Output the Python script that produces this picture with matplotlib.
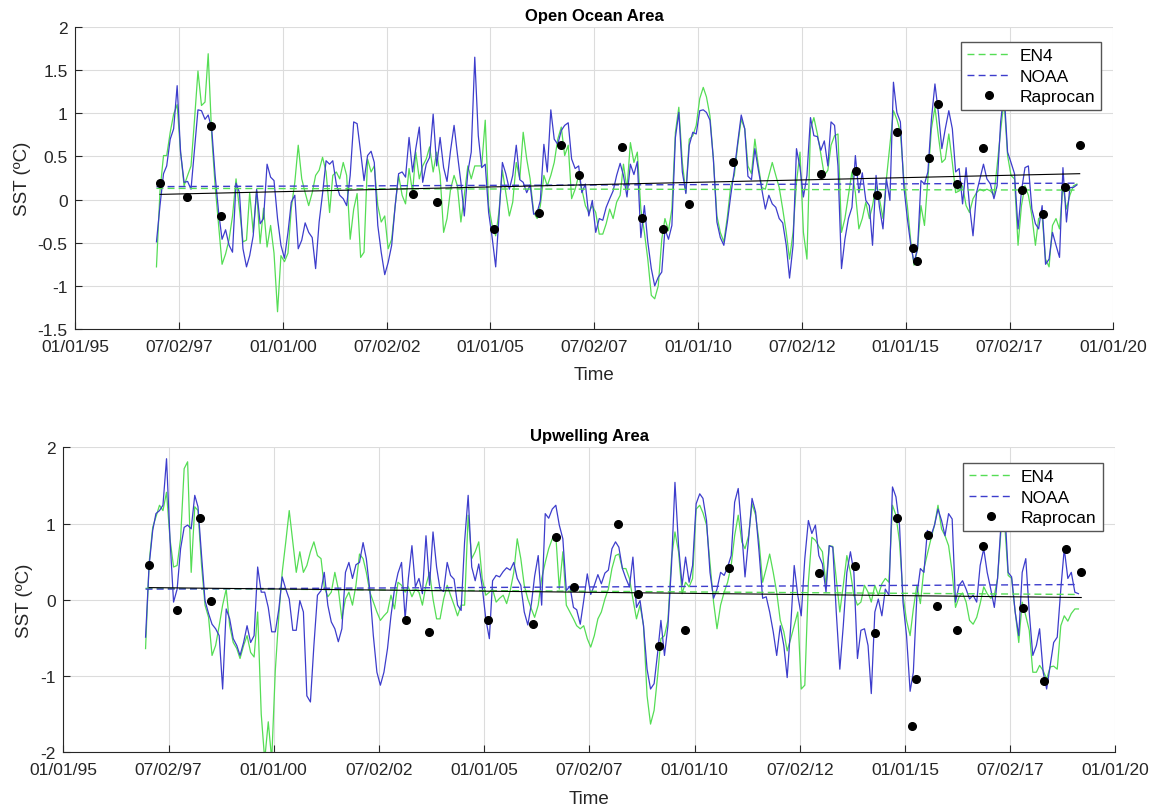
import numpy as np
import pandas as pd
import matplotlib
matplotlib.use("Agg")
import matplotlib.pyplot as plt
import matplotlib.dates as mdates
from matplotlib.ticker import FormatStrFormatter

plt.rcParams['font.family'] = ['Liberation Sans', 'DejaVu Sans']

# ---------------- monthly SST anomalies (Dec 1996 - Feb 2019) ----------------
n_months = 267
months = pd.date_range('1996-12-01', periods=n_months, freq='MS') + pd.Timedelta(days=14)

ocean_en4 = [
    -0.78, 0.10, 0.51, 0.51, 0.78, 0.99, 1.10, 0.55, 0.16, 0.28, 0.39,
    0.93, 1.49, 1.09, 1.13, 1.69, 0.74, 0.16, -0.30, -0.75, -0.63,
    -0.46, -0.19, 0.24, -0.11, -0.49, -0.47, 0.08, -0.38, 0.10, -0.51,
    -0.10, -0.55, -0.30, -0.62, -1.30, -0.65, -0.72, -0.62, -0.10, 0.20,
    0.63, 0.24, 0.08, -0.07, 0.08, 0.28, 0.34, 0.49, 0.32, -0.15,
    0.28, 0.32, 0.24, 0.43, 0.28, -0.46, -0.11, 0.07, -0.67, -0.61,
    0.47, 0.32, 0.39, -0.07, -0.26, -0.19, -0.57, -0.46, -0.07, 0.28,
    0.05, -0.05, 0.36, 0.08, 0.55, 0.24, 0.39, 0.47, 0.61, 0.32,
    0.55, 0.28, -0.38, -0.22, 0.12, 0.28, 0.16, -0.26, 0.05, 0.39,
    0.24, 0.39, 0.39, 0.39, 0.92, -0.07, -0.30, -0.42, -0.15, 0.34,
    0.08, -0.19, -0.03, 0.43, 0.24, 0.78, 0.47, 0.24, -0.15, -0.22,
    -0.07, 0.28, 0.16, 0.28, 0.43, 0.70, 0.84, 0.51, 0.63, 0.01,
    0.12, 0.28, 0.12, -0.07, -0.15, -0.07, -0.15, -0.40, -0.40, -0.28,
    -0.11, -0.22, -0.03, 0.05, 0.41, 0.12, 0.66, 0.43, 0.55, -0.11,
    -0.38, -0.69, -1.11, -1.15, -1.00, -0.46, -0.22, -0.36, -0.11, 0.78,
    1.07, 0.43, 0.08, 0.70, 0.74, 0.86, 1.17, 1.30, 1.19, 0.97,
    0.47, -0.19, -0.38, -0.49, -0.20, 0.16, 0.28, 0.63, 0.93, 0.82,
    0.39, 0.30, 0.70, 0.39, 0.14, 0.12, 0.28, 0.43, 0.28, 0.14,
    -0.11, -0.38, -0.69, -0.38, 0.20, 0.55, -0.38, -0.69, 0.82, 0.95,
    0.76, 0.53, 0.28, 0.34, 0.63, 0.74, 0.76, -0.38, -0.22, 0.05,
    0.32, 0.08, -0.34, -0.22, -0.03, -0.22, -0.07, 0.16, 0.01, -0.22,
    0.24, 0.63, 1.03, 0.93, 0.78, 0.24, -0.07, -0.49, -0.76, -0.57,
    -0.07, -0.30, 0.24, 0.82, 1.07, 0.74, 0.43, 0.47, 0.76, 0.43,
    0.08, 0.10, 0.16, -0.07, -0.15, 0.01, 0.08, 0.12, 0.10, 0.12,
    0.10, 0.05, 0.39, 0.80, 1.15, 0.51, 0.28, 0.24, -0.53, -0.07,
    0.16, 0.05, -0.19, -0.53, -0.22, -0.19, -0.69, -0.78, -0.30, -0.22,
    -0.34, 0.16, -0.11, 0.05, 0.16, 0.18,
]

ocean_noaa = [
    -0.49, -0.07, 0.30, 0.39, 0.70, 0.82, 1.32, 0.55, 0.20, 0.21, 0.12,
    0.59, 1.04, 1.03, 0.93, 0.98, 0.82, 0.28, -0.15, -0.46, -0.35,
    -0.53, -0.61, 0.19, 0.08, -0.57, -0.78, -0.65, -0.42, 0.12, -0.28,
    -0.22, 0.41, 0.26, 0.22, -0.22, -0.53, -0.68, -0.38, -0.03, 0.05,
    -0.57, -0.47, -0.27, -0.38, -0.44, -0.80, -0.26, 0.07, 0.45, 0.41,
    0.45, 0.18, 0.05, 0.01, -0.07, 0.28, 0.90, 0.88, 0.55, 0.22,
    0.51, 0.56, 0.43, -0.30, -0.61, -0.87, -0.73, -0.53, -0.07, 0.30,
    0.32, 0.26, 0.72, 0.32, 0.59, 0.84, 0.20, 0.41, 0.49, 0.99,
    0.39, 0.72, 0.37, 0.21, 0.57, 0.86, 0.53, 0.20, -0.19, 0.32,
    0.55, 1.65, 0.74, 0.37, 0.41, -0.15, -0.44, -0.78, -0.22, 0.43,
    0.30, 0.12, 0.28, 0.63, 0.23, 0.20, 0.08, 0.17, -0.17, -0.15,
    -0.01, 0.64, 0.32, 1.04, 0.70, 0.64, 0.80, 0.86, 0.89, 0.47,
    0.36, 0.39, 0.08, 0.18, -0.19, -0.01, -0.38, -0.22, -0.24, -0.09,
    0.01, 0.10, 0.28, 0.42, 0.28, 0.03, 0.41, 0.29, 0.44, -0.44,
    -0.07, -0.49, -0.80, -1.00, -0.90, -0.84, -0.34, -0.46, -0.30, 0.72,
    1.01, 0.32, 0.07, 0.63, 0.78, 0.76, 1.03, 1.04, 1.01, 0.92,
    0.47, -0.26, -0.44, -0.53, -0.26, 0.05, 0.34, 0.66, 0.98, 0.82,
    0.27, 0.23, 0.59, 0.34, 0.12, -0.11, 0.05, -0.05, -0.09, -0.22,
    -0.27, -0.53, -0.91, -0.53, 0.59, 0.37, 0.03, 0.28, 0.95, 0.74,
    0.73, 0.57, 0.68, 0.39, 0.90, 0.86, 0.39, -0.80, -0.46, -0.22,
    -0.09, 0.51, 0.08, 0.31, -0.01, -0.07, -0.53, 0.28, -0.09, -0.34,
    0.24, -0.01, 1.36, 1.01, 0.90, 0.16, -0.22, -0.53, -0.73, -0.57,
    0.22, 0.18, 0.32, 0.93, 1.34, 1.01, 0.59, 0.82, 1.03, 0.82,
    0.32, 0.36, -0.05, 0.37, -0.07, -0.42, 0.08, 0.24, 0.41, 0.24,
    0.18, 0.01, 0.16, 0.90, 1.25, 0.55, 0.43, 0.30, -0.34, 0.10,
    0.37, 0.39, -0.11, -0.28, -0.34, -0.07, -0.75, -0.69, -0.38, -0.53,
    -0.67, 0.37, -0.26, 0.14, 0.14, 0.17,
]

upw_en4 = [
    -0.64, 0.49, 0.95, 1.09, 1.24, 1.17, 1.41, 0.80, 0.43, 0.45, 0.80,
    1.72, 1.81, 0.36, 1.22, 1.17, 0.45, -0.07, -0.23, -0.73, -0.60,
    -0.34, -0.07, 0.14, -0.34, -0.56, -0.64, -0.77, -0.60, -0.47, -0.69,
    -0.75, -0.16, -1.50, -2.10, -1.60, -2.10, -0.93, -0.20, 0.36, 0.76,
    1.17, 0.76, 0.36, 0.63, 0.36, 0.45, 0.63, 0.76, 0.58, 0.54,
    0.17, 0.04, 0.10, 0.36, 0.14, -0.25, 0.01, 0.10, -0.07, 0.19,
    0.60, 0.54, 0.36, 0.10, -0.03, -0.16, -0.27, -0.21, -0.16, 0.06,
    -0.12, 0.23, 0.19, 0.10, 0.17, 0.04, 0.14, 0.10, -0.07, 0.19,
    0.36, 0.01, -0.25, -0.25, 0.01, 0.19, 0.06, -0.07, -0.21, -0.07,
    -0.07, 1.11, 0.54, 0.63, 0.76, 0.28, 0.06, 0.10, 0.14, -0.03,
    0.02, 0.06, -0.05, 0.12, 0.36, 0.80, 0.54, 0.19, 0.01, -0.12,
    -0.23, -0.07, 0.28, 0.49, 0.67, 0.80, 0.84, 0.14, 0.63, -0.07,
    -0.16, -0.25, -0.34, -0.38, -0.34, -0.51, -0.62, -0.47, -0.25, -0.16,
    0.01, 0.14, 0.41, 0.58, 0.60, 0.41, 0.41, 0.28, 0.01, -0.25,
    -0.07, -0.34, -1.26, -1.63, -1.45, -0.99, -0.51, -0.47, -0.27, 0.54,
    0.89, 0.63, 0.08, 0.23, 0.17, 0.28, 1.19, 1.24, 1.14, 0.98,
    0.49, -0.03, -0.38, -0.07, 0.10, 0.23, 0.45, 0.84, 1.11, 0.76,
    0.67, 0.84, 1.26, 1.11, 0.76, 0.23, 0.41, 0.60, 0.36, 0.10,
    -0.27, -0.42, -0.67, -0.51, -0.34, -0.16, -1.17, -1.12, 0.23, 0.82,
    0.78, 0.70, 0.63, 0.19, 0.71, 0.70, 0.28, -0.16, 0.19, 0.58,
    0.36, 0.06, -0.07, -0.03, 0.19, 0.10, -0.03, 0.19, 0.06, 0.21,
    0.28, 0.23, 1.24, 1.11, 0.76, 0.06, -0.27, -0.47, -0.12, 0.19,
    -0.05, 0.41, 0.60, 0.80, 0.98, 1.24, 0.93, 0.84, 0.71, 0.36,
    -0.10, 0.04, 0.09, -0.03, -0.27, -0.32, -0.23, -0.05, 0.17, 0.08,
    0.02, 0.06, 0.28, 0.93, 1.02, 0.32, 0.28, -0.16, -0.56, -0.03,
    -0.21, -0.40, -0.95, -0.95, -0.86, -0.93, -1.04, -0.88, -0.87, -0.91,
    -0.34, -0.21, -0.28, -0.18, -0.12, -0.12,
]

upw_noaa = [
    -0.49, 0.45, 0.91, 1.13, 1.17, 1.24, 1.85, 0.80, -0.03, 0.14, 0.67,
    0.95, 0.98, 0.93, 1.37, 1.22, 0.58, -0.01, -0.18, -0.32, -0.38,
    -0.47, -1.17, -0.12, -0.25, -0.51, -0.60, -0.73, -0.56, -0.34, -0.56,
    -0.47, 0.43, 0.10, 0.10, -0.10, -0.42, -0.42, -0.12, 0.30, 0.14,
    0.01, -0.40, -0.40, -0.01, -0.16, -1.26, -1.34, -0.60, 0.06, 0.12,
    0.36, -0.07, -0.29, -0.38, -0.55, -0.38, 0.36, 0.49, 0.28, 0.46,
    0.49, 0.75, 0.54, 0.12, -0.47, -0.95, -1.12, -0.95, -0.64, -0.21,
    0.14, 0.35, 0.49, -0.25, 0.28, 0.71, 0.17, 0.28, 0.08, 0.84,
    0.19, 0.89, 0.43, 0.14, 0.11, 0.49, 0.32, 0.27, -0.07, -0.14,
    0.76, 1.37, 0.43, 0.25, 0.47, 0.17, -0.25, -0.51, 0.25, 0.32,
    0.30, 0.37, 0.42, 0.39, 0.49, 0.28, 0.19, -0.16, -0.33, -0.05,
    0.31, 0.58, -0.07, 1.13, 1.07, 1.19, 1.24, 0.98, 0.80, 0.12,
    0.18, -0.10, -0.13, -0.32, -0.01, 0.34, 0.07, 0.19, 0.33, 0.21,
    0.35, 0.39, 0.67, 0.76, 0.69, 0.41, 0.28, 0.17, 0.56, -0.10,
    -0.01, -0.34, -0.91, -1.17, -1.10, -0.69, -0.27, -0.73, -0.34, 0.45,
    1.54, 0.71, 0.19, 0.56, 0.23, 0.45, 1.26, 1.39, 1.33, 1.04,
    0.36, 0.02, 0.14, 0.36, 0.32, 0.43, 0.58, 1.28, 1.46, 0.89,
    0.30, 0.80, 1.33, 1.15, 0.63, 0.02, 0.04, -0.16, -0.42, -0.73,
    -0.34, -0.60, -1.02, -0.34, 0.45, 0.06, -0.21, 0.54, 1.04, 0.87,
    0.98, 0.58, 0.47, 0.10, 0.71, 0.69, -0.16, -0.91, -0.34, 0.36,
    0.63, 0.36, -0.77, -0.40, -0.38, -0.60, -1.23, -0.16, 0.01, -0.21,
    0.14, 0.06, 1.48, 1.35, 0.98, -0.03, -0.47, -1.20, -0.95, 0.06,
    0.41, 0.36, 0.91, 0.84, 0.98, 1.19, 1.04, 0.84, 1.13, 1.06,
    -0.03, 0.19, 0.25, 0.14, 0.01, 0.06, -0.03, 0.45, 0.67, 0.36,
    0.14, -0.10, 0.28, 1.02, 1.24, 0.36, 0.30, -0.16, -0.47, 0.36,
    0.54, -0.16, -0.73, -0.60, -0.38, -0.95, -1.17, -0.86, -0.56, -0.49,
    0.14, 0.67, 0.28, 0.36, 0.10, 0.08,
]

# Raprocan cruises (decimal year) and their SST anomalies
raprocan_years = [
    1997.04, 1997.70, 1998.26, 1998.51, 2003.14, 2003.70, 2005.09, 2006.16,
    2006.70, 2007.13, 2008.17, 2008.65, 2009.15, 2009.78, 2010.83, 2012.96,
    2013.81, 2014.30, 2014.80, 2015.18, 2015.26, 2015.56, 2015.77, 2016.24,
    2016.86, 2017.80, 2018.30, 2018.83, 2019.19,
]
ocean_raprocan = [
    0.19, 0.03, 0.85, -0.19, 0.06, -0.03, -0.34, -0.16,
    0.63, 0.28, 0.61, -0.21, -0.34, -0.05, 0.44, 0.30,
    0.33, 0.05, 0.78, -0.56, -0.71, 0.48, 1.11, 0.18,
    0.60, 0.11, -0.17, 0.15, 0.63,
]
upw_raprocan = [
    0.46, -0.14, 1.07, -0.02, -0.26, -0.42, -0.26, -0.32,
    0.83, 0.17, 0.99, 0.08, -0.61, -0.40, 0.42, 0.35,
    0.44, -0.43, 1.07, -1.65, -1.04, 0.85, -0.08, -0.39,
    0.71, -0.11, -1.06, 0.66, 0.37,
]

# linear trends: value at start and at end of each record
ocean_trends = {'EN4': [0.13, 0.11], 'NOAA': [0.15, 0.19], 'Raprocan': [0.06, 0.30]}
upw_trends = {'EN4': [0.15, 0.07], 'NOAA': [0.14, 0.20], 'Raprocan': [0.16, 0.03]}

tick_labels = ['01/01/95', '07/02/97', '01/01/00', '07/02/02', '01/01/05', '07/02/07',
               '01/01/10', '07/02/12', '01/01/15', '07/02/17', '01/01/20']

green = '#55dd55'
blue = '#3d3dcc'
ink = '#262626'


def to_dates(years):
    years = np.asarray(years)
    return pd.Timestamp('1995-01-01') + pd.to_timedelta((years - 1995) * 365.25, unit='D')


def draw_panel(ax, en4, noaa, rap, trends, title, ylim, ystep, legend_anchor):
    rap_dates = to_dates(raprocan_years)
    ax.plot(months, en4, color=green, lw=0.9)
    ax.plot(months, noaa, color=blue, lw=0.9)
    ax.plot([months[0], months[-1]], trends['EN4'], color=green, lw=1.0,
            ls=(0, (5, 3)), label='EN4')
    ax.plot([months[0], months[-1]], trends['NOAA'], color=blue, lw=1.0,
            ls=(0, (5, 3)), label='NOAA')
    ax.plot([rap_dates[0], rap_dates[-1]], trends['Raprocan'], color='black', lw=0.8)
    ax.plot(rap_dates, rap, 'o', color='black', ms=5.5, label='Raprocan')

    t0 = mdates.date2num(pd.Timestamp('1995-01-01'))
    t1 = mdates.date2num(pd.Timestamp('2020-01-01'))
    ax.set_xlim(t0, t1)
    ax.set_xticks(np.linspace(t0, t1, len(tick_labels)))
    ax.set_xticklabels(tick_labels)
    ax.set_ylim(*ylim)
    ax.set_yticks(np.arange(ylim[0], ylim[1] + ystep / 2, ystep))
    ax.yaxis.set_major_formatter(FormatStrFormatter('%g'))

    ax.grid(True, color='#dcdcdc', lw=0.8)
    ax.set_axisbelow(True)
    for side in ['top', 'right']:
        ax.spines[side].set_visible(False)
    for side in ['left', 'bottom']:
        ax.spines[side].set_color(ink)
        ax.spines[side].set_linewidth(0.8)
    ax.tick_params(direction='in', length=5, width=0.8, colors=ink,
                   labelsize=12.5, top=False, right=False)
    ax.tick_params(axis='x', pad=7)
    ax.tick_params(axis='y', pad=5.5)

    ax.set_title(title, fontsize=12, fontweight='bold', color='black', pad=5)
    ax.set_xlabel('Time', fontsize=13.5, color=ink, labelpad=9)
    ax.set_ylabel('SST (ºC)', fontsize=13.5, color=ink, labelpad=5)
    ax.legend(loc='upper right', bbox_to_anchor=legend_anchor, borderaxespad=0,
              fontsize=12.5, frameon=True, fancybox=False, edgecolor='#555555',
              framealpha=1, handlelength=2.5, borderpad=0.35, labelspacing=0.3,
              handletextpad=0.5)


fig = plt.figure(figsize=(11.58, 8.12), dpi=100)
ax_top = fig.add_axes([75.3 / 1158, 1 - 330 / 812, 1038 / 1158, 302 / 812])
ax_bot = fig.add_axes([63.3 / 1158, 1 - 753.3 / 812, 1052 / 1158, 305 / 812])

draw_panel(ax_top, ocean_en4, ocean_noaa, ocean_raprocan, ocean_trends,
           'Open Ocean Area', (-1.5, 2.0), 0.5, (0.988, 0.950))
draw_panel(ax_bot, upw_en4, upw_noaa, upw_raprocan, upw_trends,
           'Upwelling Area', (-2.0, 2.0), 1.0, (0.988, 0.948))

fig.savefig('out.png', dpi=100)
